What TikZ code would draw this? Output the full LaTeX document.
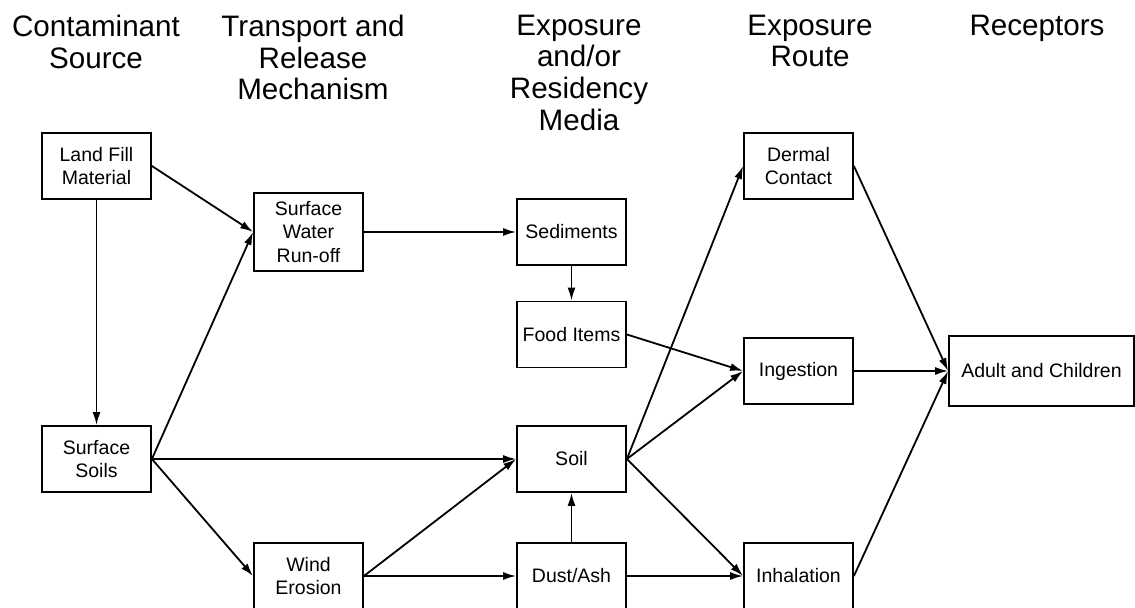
\documentclass[tikz,border=0pt]{standalone}
\usepackage{fontspec}
\setmainfont{Liberation Sans}
\usetikzlibrary{arrows.meta,positioning}

\begin{document}
\begin{tikzpicture}[x=0.5pt, y=-0.5pt, line width=0.9pt, >={Latex[length=6.5pt,width=4pt]},
    box/.style={draw, align=center, minimum width=54.5pt, minimum height=33pt, inner sep=0pt,
                font=\fontsize{9.75}{11.75}\selectfont},
    head/.style={align=center, inner sep=0pt, anchor=north,
                font=\fontsize{14.8}{15.85}\selectfont}]
   \useasboundingbox (0,0) rectangle (1135,608);

   %column headings
   \node[head] (hsource) at (96,14) {Contaminant\\Source};
   \node[head] (htransport) at (313,14) {Transport and\\Release\\Mechanism};
   \node[head] (hmedia) at (579,14) {Exposure\\and/or\\Residency\\Media};
   \node[head] (hroute) at (810,14) {Exposure\\Route};
   \node[head] (hreceptor) at (1037,14) {Receptors};

   %source
   \node[box] (landfill) at (96.5,166) {Land Fill\\Material};
   \node[box] (surfsoil) at (96.5,459) {Surface\\Soils};
   %release
   \node[box, minimum height=39pt] (runoff) at (308.5,232) {Surface\\Water\\Run-off};
   \node[box] (wind) at (308.5,576) {Wind\\Erosion};
   %media
   \node[box] (sediment) at (571.5,232) {Sediments};
   \node[box] (food) at (571.5,334.5) {Food Items};
   \node[box] (soil) at (571.5,459) {Soil};
   \node[box] (dust) at (571.5,576) {Dust/Ash};
   %route
   \node[box] (dermal) at (798.5,166) {Dermal\\Contact};
   \node[box] (ingest) at (798.5,371) {Ingestion};
   \node[box] (inhale) at (798.5,576) {Inhalation};
   %receptor
   \node[box, minimum width=92.5pt, minimum height=35pt] (adult) at (1041.5,371) {Adult and Children};

  \path[->]
    (landfill.east) edge (runoff.west)
    (landfill) edge (surfsoil)
    (surfsoil.east) edge (runoff.west)
                    edge (soil.west)
                    edge (wind.west)

    (runoff) edge (sediment)
    (sediment) edge (food)
    (wind.east) edge (soil.west)
                edge (dust.west)
    (dust) edge (soil)

    (food.east) edge (ingest.west)
    (soil.east) edge (dermal.west)
                edge (ingest.west)
                edge (inhale.west)
    (dust) edge (inhale)

    (dermal.east) edge (adult.west)
    (ingest) edge (adult)
    (inhale.east) edge (adult.west);
\end{tikzpicture}
\end{document}
